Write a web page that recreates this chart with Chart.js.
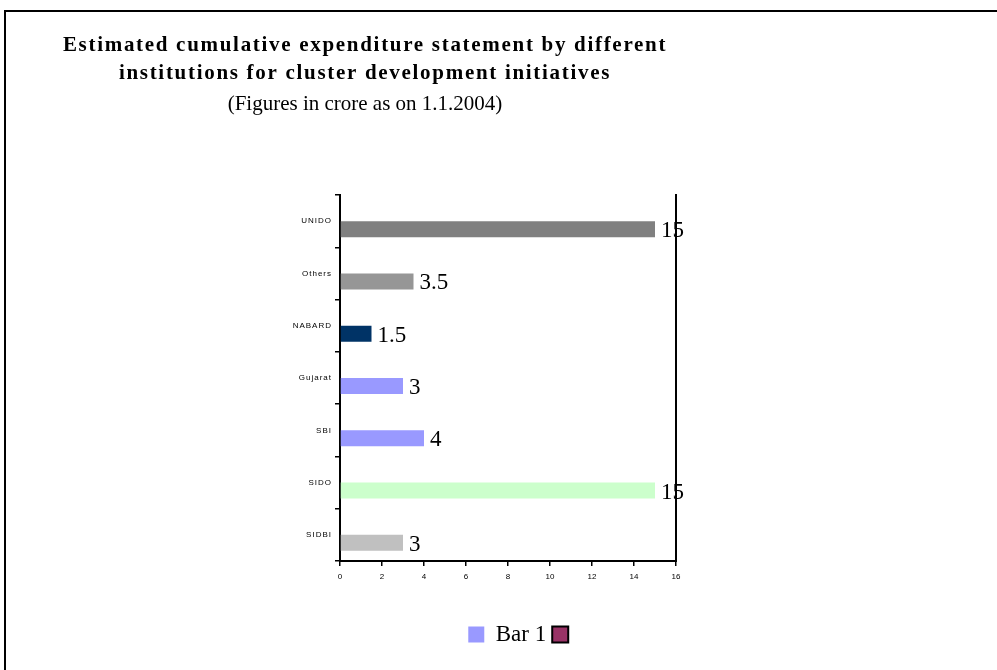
<!DOCTYPE html>
<html>
<head>
<meta charset="utf-8">
<script src="https://cdn.jsdelivr.net/npm/chart.js@4.4.1/dist/chart.umd.min.js"></script>
<style>
  body { margin: 0; background: #fff; }
  #frame { position: absolute; left: 4px; top: 10px; width: 1100px; height: 800px;
           border-left: 2px solid #000; border-top: 2px solid #000; }
  #wrap { position: absolute; left: 0; top: 0; width: 730px; height: 670px; }
</style>
</head>
<body>
<div id="frame"></div>
<div id="wrap"><canvas id="myBarChart"></canvas></div>
<script>
// categories, top to bottom
const labels = ['UNIDO', 'Others', 'NABARD', 'Gujarat', 'SBI', 'SIDO', 'SIDBI'];
// Bar 1 values (crore)
const values = [15, 3.5, 1.5, 3, 4, 15, 3];
const barColors = ['#808080', '#969696', '#003366', '#9999ff', '#9999ff', '#ccffcc', '#c0c0c0'];
// second series is empty in the source
const emptySeries = [null, null, null, null, null, null, null];
const xTicks = [0, 2, 4, 6, 8, 10, 12, 14, 16];

var barChart = document.getElementById("myBarChart");
const serif = '"Liberation Serif", "Times New Roman", serif';

// value labels at the end of each bar
const valueLabels = {
  id: 'valueLabels',
  afterDatasetsDraw(chart) {
    const ctx = chart.ctx;
    const meta = chart.getDatasetMeta(1);
    ctx.save();
    ctx.font = '23px ' + serif;
    ctx.fillStyle = '#000';
    ctx.textAlign = 'left';
    ctx.textBaseline = 'alphabetic';
    meta.data.forEach(function (bar, i) {
      ctx.fillText(String(values[i]), bar.x + 6, bar.y + bar.height / 2);
    });
    ctx.restore();
  }
};

// legend sits a bit right of the plot centre in the source
// and the title / category labels are letter-spaced
function spaced(obj, name, spacing) {
  const orig = obj[name];
  obj[name] = function () {
    const ctx = this.ctx;
    ctx.save();
    ctx.letterSpacing = spacing;
    orig.apply(this, arguments);
    ctx.restore();
  };
}
const tweaks = {
  id: 'tweaks',
  afterLayout(chart) {
    chart.legend.left += 16;
    chart.legend.right += 16;
  },
  beforeDraw(chart) {
    if (!chart.titleBlock._spaced) {
      spaced(chart.titleBlock, 'draw', '1.7px');
      chart.titleBlock._spaced = true;
    }
    if (!chart.scales.y._spaced) {
      spaced(chart.scales.y, 'drawLabels', '1px');
      chart.scales.y._spaced = true;
    }
  }
};

const data = {
  labels: labels,
  datasets: [{
    label: '',
    data: emptySeries,
    backgroundColor: '#993366',
    categoryPercentage: 0.612,
    barPercentage: 1
  }, {
    label: 'Bar 1',
    data: values,
    backgroundColor: barColors,
    categoryPercentage: 0.612,
    barPercentage: 1
  }]
};

const config = {
  type: 'bar',
  data: data,
  plugins: [valueLabels, tweaks],
  options: {
    indexAxis: 'y',
    responsive: true,
    maintainAspectRatio: false,
    animation: false,
    layout: { padding: { bottom: 14 } },
    plugins: {
      title: {
        display: true,
        text: ['Estimated cumulative expenditure statement by different',
               'institutions for cluster development initiatives'],
        color: '#000',
        font: { family: serif, size: 21, weight: 'bold', lineHeight: 1.33 },
        padding: { top: 32, bottom: 0 }
      },
      subtitle: {
        display: true,
        text: '(Figures in crore as on 1.1.2004)',
        color: '#000',
        font: { family: serif, size: 21, lineHeight: 1.2 },
        padding: { top: 4, bottom: 78 }
      },
      legend: {
        position: 'bottom',
        fullSize: false,
        labels: {
          color: '#000',
          font: { family: serif, size: 23 },
          boxWidth: 16,
          boxHeight: 16,
          padding: 6,
          generateLabels: function () {
            return [
              { text: 'Bar 1', fillStyle: '#9999ff', strokeStyle: '#9999ff', lineWidth: 0, datasetIndex: 1 },
              { text: '', fillStyle: '#993366', strokeStyle: '#000', lineWidth: 2, datasetIndex: 0 }
            ];
          }
        }
      },
      tooltip: { enabled: false }
    },
    scales: {
      x: {
        type: 'linear',
        min: 0,
        max: 16,
        afterBuildTicks: function (axis) {
          axis.ticks = xTicks.map(function (v) { return { value: v }; });
        },
        afterFit: function (scale) { scale.height = 56; },
        border: { color: '#000', width: 2 },
        grid: { drawOnChartArea: false, drawTicks: true, tickLength: 5, color: '#000', lineWidth: 1.5 },
        ticks: { color: '#000', padding: 6, font: { family: 'Arial, "Liberation Sans", sans-serif', size: 8 } }
      },
      y: {
        afterFit: function (scale) { scale.width = 340; },
        border: { color: '#000', width: 2 },
        grid: { offset: true, drawOnChartArea: false, drawTicks: true, tickLength: 5, color: '#000', lineWidth: 1.5 },
        ticks: { color: '#000', padding: 3, font: { family: 'Arial, "Liberation Sans", sans-serif', size: 8 } }
      },
      y2: {
        type: 'linear',
        position: 'right',
        display: true,
        afterFit: function (scale) { scale.width = 54; },
        border: { color: '#000', width: 2 },
        grid: { display: false },
        ticks: { display: false }
      }
    }
  }
};

const myChart = new Chart(barChart, config);
</script>
</body>
</html>
